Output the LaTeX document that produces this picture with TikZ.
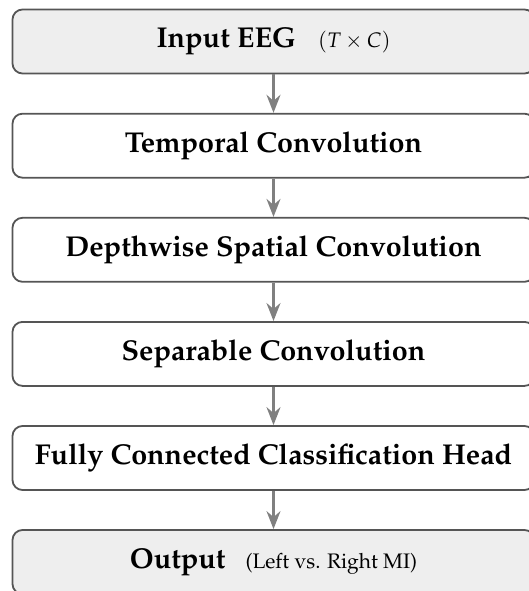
\documentclass[tikz,border=0pt]{standalone}
\usepackage[T1]{fontenc}
\usepackage{mathpazo}
\usetikzlibrary{arrows.meta}
\definecolor{boxline}{HTML}{555555}
\definecolor{arrowgray}{HTML}{808080}
\definecolor{lightfill}{HTML}{EEEEEE}
\tikzset{
  x=1pt, y=1pt,
  stage/.style={draw=boxline, line width=1.8pt, rounded corners=10pt, minimum width=522pt, minimum height=64pt, inner sep=0pt, align=center, font=\fontsize{28.7}{34}\selectfont\bfseries},
  iobox/.style={stage, fill=lightfill},
  flow/.style={draw=arrowgray, line width=2.2pt, -{Stealth[length=18pt, width=14pt, inset=6pt]}}
}
\newcommand{\subtext}[1]{{\fontsize{21}{25}\selectfont\mdseries #1}}
\begin{document}
\begin{tikzpicture}
\useasboundingbox (0,0) rectangle (529,-591);
\clip (0,0) rectangle (529,-591);
\node[iobox] (in) at (273.5,-41.5) {Input EEG\hspace{22pt}\subtext{$(T\times C)$}};
\node[stage] (tc) at (273.5,-145.7) {Temporal Convolution};
\node[stage] (dw) at (273.5,-249.8) {Depthwise Spatial Convolution};
\node[stage] (sc) at (273.5,-353.9) {Separable Convolution};
\node[stage] (fc) at (273.5,-458) {Fully Connected Classification Head};
\node[iobox] (out) at (273.5,-562) {Output\hspace{20pt}\subtext{(Left vs. Right MI)}};
\draw[flow] (in) -- (tc);
\draw[flow] (tc) -- (dw);
\draw[flow] (dw) -- (sc);
\draw[flow] (sc) -- (fc);
\draw[flow] (fc) -- (out);
\end{tikzpicture}
\end{document}
